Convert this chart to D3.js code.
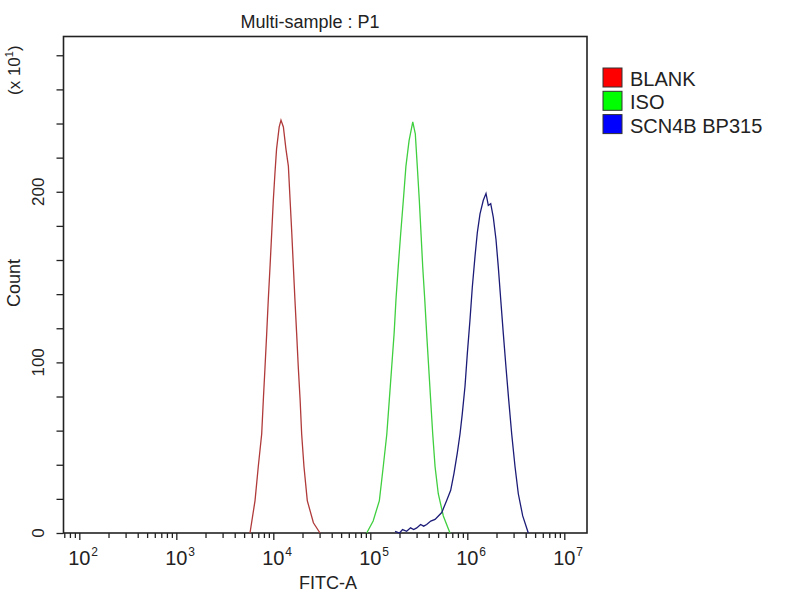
<!DOCTYPE html>
<html>
<head>
<meta charset="utf-8">
<script src="https://cdn.jsdelivr.net/npm/d3@7"></script>
<style>
  body { margin: 0; background: #fff; }
  text { font-family: "Liberation Sans", Arial, sans-serif; fill: #222; }
</style>
</head>
<body>
<svg id="chart" width="800" height="600"></svg>
<script>
// *** Data (FITC-A value, count in units of x10^1) ***

var blankX = [5750, 6480, 7000, 7590, 7890, 8210, 8550, 8880, 9250, 9630, 10000, 10400, 10800, 11500, 12000,
              12700, 13500, 14300, 14900, 15500, 16100, 16700, 17400, 18100, 18900, 19600, 20700, 22400, 25900, 30300];
var blankY = [0, 19, 39, 58, 78, 97, 117, 137, 156, 176, 195, 211, 225, 238, 242,
              238, 225, 215, 195, 176, 156, 137, 117, 97, 78, 58, 39, 19, 6, 0];

var isoX = [91800, 107000, 124000, 136000, 148000, 157000, 166000, 176000, 184000, 194000, 206000, 219000, 233000, 251000, 274000,
            291000, 305000, 320000, 333000, 347000, 364000, 381000, 400000, 419000, 440000, 465000, 502000, 566000, 663000];
var isoY = [0, 7, 19, 39, 58, 78, 97, 117, 137, 156, 176, 195, 215, 230, 241,
            234, 215, 195, 176, 156, 137, 117, 97, 78, 58, 39, 23, 10, 0];

var scnX = [180000, 200000, 215000, 237000, 260000, 280000, 301000, 330000, 355000, 381000, 420000, 465000, 545000, 613000,
            674000, 729000, 789000, 841000, 888000, 947000, 1000000, 1066000, 1126000, 1200000, 1268000, 1352000, 1462000, 1559000,
            1646000, 1743000, 1854000, 1976000, 2087000, 2210000, 2350000, 2506000, 2672000, 2869000, 3103000, 3356000, 3726000, 4255000];
var scnY = [1, 0, 2, 1, 3, 2, 3, 5, 4, 5, 7, 8, 12, 19,
            25, 35, 47, 58, 70, 86, 105, 125, 144, 162, 176, 187, 195, 199,
            192, 193, 185, 172, 156, 137, 117, 97, 78, 58, 39, 23, 10, 0];

var seriesNames = ["BLANK", "ISO", "SCN4B BP315"];
var lineColors = ["#b03a3a", "#3fcf3f", "#1c1c78"];
var swatchColors = ["#ff0000", "#00ff00", "#0000ff"];

var xDomain = [68.7, 17140000];
var yDomain = [0, 291];
var xLabelExponents = [2, 3, 4, 5, 6, 7];
var yLabelTicks = [0, 100, 200];

// *** Chart ***

var svg = d3.select("#chart");

var plot = {left: 63.5, right: 587, top: 36.5, bottom: 533};

var x = d3.scaleLog().domain(xDomain).range([plot.left, plot.right]);
var y = d3.scaleLinear().domain(yDomain).range([plot.bottom, plot.top]);

// log ticks 1..9 x 10^n inside the domain
var xTicks = [];
for (var n = 1; n <= 7; n++) {
  for (var k = 1; k <= 9; k++) {
    var v = k * Math.pow(10, n);
    if (v >= xDomain[0] && v <= xDomain[1]) xTicks.push(v);
  }
}

var xAxisG = svg.append("g")
  .attr("transform", "translate(0," + plot.bottom + ")")
  .call(d3.axisBottom(x).tickValues(xTicks).tickSize(5).tickFormat(""));
xAxisG.select(".domain").remove();
xAxisG.selectAll(".tick line")
  .attr("stroke", "#222")
  .attr("stroke-width", 1.3)
  .attr("y2", d => Math.abs(Math.log10(d) % 1) < 1e-9 ? 7 : 5);

var yAxisG = svg.append("g")
  .attr("transform", "translate(" + plot.left + ",0)")
  .call(d3.axisLeft(y).tickValues(d3.range(0, 281, 20)).tickSize(7).tickFormat(""));
yAxisG.select(".domain").remove();
yAxisG.selectAll(".tick line").attr("stroke", "#222").attr("stroke-width", 1.3);

// frame
svg.append("rect")
  .attr("x", plot.left).attr("y", plot.top)
  .attr("width", plot.right - plot.left).attr("height", plot.bottom - plot.top)
  .attr("fill", "none")
  .attr("stroke", "#222")
  .attr("stroke-width", 1.6);

// x tick labels 10^n
var xl = svg.append("g");
xLabelExponents.forEach(function (e) {
  var px = x(Math.pow(10, e));
  xl.append("text")
    .attr("x", px).attr("y", 565)
    .attr("text-anchor", "middle")
    .style("font-size", "20px")
    .text("10");
  xl.append("text")
    .attr("x", px + 12).attr("y", 556)
    .style("font-size", "12px")
    .text(e);
});

// y tick labels (rotated)
yLabelTicks.forEach(function (t) {
  svg.append("text")
    .attr("transform", "translate(44," + y(t) + ") rotate(-90)")
    .attr("text-anchor", "middle")
    .style("font-size", "17px")
    .text(t);
});

// axis titles
svg.append("text")
  .attr("x", 310).attr("y", 28)
  .attr("text-anchor", "middle")
  .style("font-size", "18px")
  .text("Multi-sample : P1");

svg.append("text")
  .attr("x", 328).attr("y", 589)
  .attr("text-anchor", "middle")
  .style("font-size", "18px")
  .text("FITC-A");

svg.append("text")
  .attr("transform", "translate(20,283) rotate(-90)")
  .attr("text-anchor", "middle")
  .style("font-size", "18px")
  .text("Count");

var mult = svg.append("text")
  .attr("transform", "translate(20,95) rotate(-90)")
  .style("font-size", "17px");
mult.append("tspan").text("(x 10");
mult.append("tspan").attr("dy", -7).style("font-size", "11px").text("1");
mult.append("tspan").attr("dy", 7).text(")");

// histograms
var line = d3.line()
  .x(d => x(d[0]))
  .y(d => y(d[1]));

var series = [d3.zip(blankX, blankY), d3.zip(isoX, isoY), d3.zip(scnX, scnY)];

svg.append("g").selectAll("path")
  .data(series)
  .enter().append("path")
  .attr("d", line)
  .attr("fill", "none")
  .attr("stroke", (d, i) => lineColors[i])
  .attr("stroke-width", 1.3);

// legend
var legend = svg.append("g").attr("transform", "translate(603,68)");
seriesNames.forEach(function (name, i) {
  legend.append("rect")
    .attr("x", 0).attr("y", i * 23.3)
    .attr("width", 19).attr("height", 19)
    .attr("fill", swatchColors[i])
    .attr("stroke", "#333")
    .attr("stroke-width", 1);
  legend.append("text")
    .attr("x", 27).attr("y", i * 23.3 + 18)
    .style("font-size", "20px")
    .text(name);
});
</script>
</body>
</html>
